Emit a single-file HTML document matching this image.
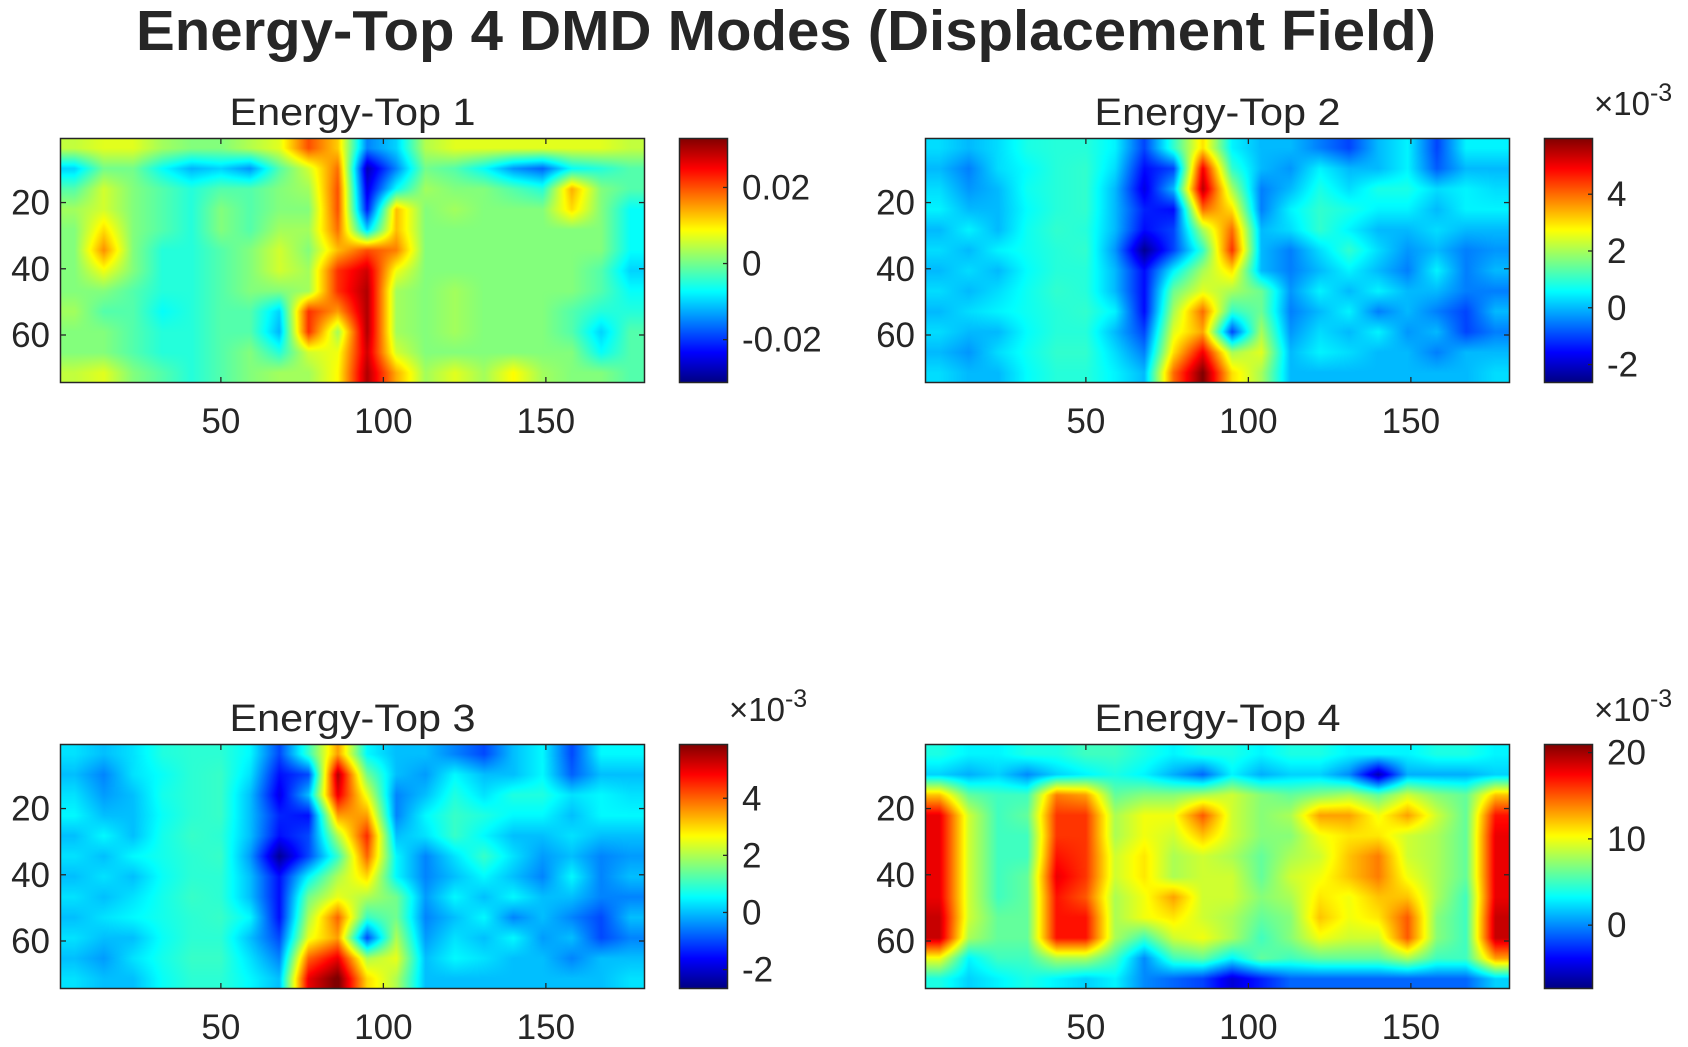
<!DOCTYPE html>
<html><head><meta charset="utf-8">
<style>
body{margin:0;background:#fff;}
#root{position:relative;width:1688px;height:1047px;overflow:hidden;background:#fff;font-family:"Liberation Sans",Arial,sans-serif;}
canvas{position:absolute;}
svg{position:absolute;left:0;top:0;}
text{font-family:"Liberation Sans",Arial,sans-serif;fill:#262626;}
</style></head>
<body>
<div id="root">
<svg id="ov" width="1688" height="1047">
<text x="786" y="50" font-size="57" font-weight="bold" text-anchor="middle" textLength="1300" lengthAdjust="spacingAndGlyphs">Energy-Top 4 DMD Modes (Displacement Field)</text>
</svg>
</div>
<script>
// ---- data (values in units of 1e-3), grid 12 rows x 20 cols over x 0.5..180.5, y 0.5..74.5 ----
const titles = ["Energy-Top 1","Energy-Top 2","Energy-Top 3","Energy-Top 4"];
const climLow = [-31.4, -2.65, -2.68, -7.4];
const climHigh = [33, 5.98, 5.9, 21];
const cbTicks1 = [-20, 0, 20];
const cbTickLabels1 = ["-0.02","0","0.02"];
const cbTicks2 = [-2, 0, 2, 4];
const cbTicks3 = [-2, 0, 2, 4];
const cbTicks4 = [0, 10, 20];
const xTicks = [50, 100, 150];
const yTicks = [20, 40, 60];
const mode1 = [
[5,7,7,3,1,1,4,7,20,12,-15,-10,4,7,7,7,7,7,7,5],
[-10,0,0,-7,-12,-10,-14,-2,6,18,-28,-15,0,-2,-7,-14,-17,-7,-5,-2],
[-2,6,1,-2,-5,-2,-2,1,3,20,-25,-7,3,1,1,-2,-5,14,1,-2],
[3,6,1,-2,-5,1,-2,1,1,20,-22,13,1,3,1,1,1,11,1,-7],
[1,11,1,-2,-5,1,-2,3,3,18,-10,13,1,1,1,1,1,1,1,-7],
[1,16,1,-5,-5,-2,1,6,1,13,20,17,1,1,1,1,1,1,1,-7],
[1,8,1,-5,-5,-2,1,6,3,22,28,8,1,1,1,1,1,1,-2,-10],
[1,1,-2,-5,-5,-2,1,1,3,22,30,3,1,3,1,1,1,1,-2,-7],
[3,-2,-2,-7,-5,-2,-2,-10,22,15,30,3,1,3,1,1,1,-2,-5,-5],
[1,1,-2,-5,-5,-2,-2,-12,22,3,30,3,1,3,1,1,1,-2,-10,-2],
[1,1,-2,-5,-5,-2,1,-5,6,8,28,6,1,1,1,1,1,1,-7,-2],
[5,7,1,-2,-5,-2,1,3,3,9,30,14,3,7,3,9,3,1,1,-2]];
const mode2 = [
[0.3,0,0.3,0.8,0.9,0.9,0.5,-1,1,3,0.5,0,0,-0.5,-1,0,0.5,-1,0.5,0.5],
[0,-0.5,0.3,0.6,0.9,1.0,0.3,-1.5,-1,5,1,0,-0.3,0.5,0,0,0.5,-0.8,0,0],
[0.3,-0.3,0,0.7,0.9,1.0,0,-1.8,0,5.5,2,-0.5,0,0.8,0.3,0.8,0.8,0.3,0.5,0.3],
[0.5,0,0,0.6,0.9,1.0,0,-1.3,-1.5,4,3,-0.5,0.5,1,0.8,0.5,0.5,0,0.5,0.5],
[0,0.5,0,0.7,1.0,0.9,0,-1.5,-1,2,4,0,0.3,1,0.5,0,0,0.3,0,0],
[0.3,0,0.5,0.7,0.9,1.0,-0.3,-2.5,-1,1,4.5,0,-0.5,0.3,1,0.3,-0.3,0,-0.5,-0.3],
[0,0.3,0,0.6,0.9,0.9,0,-1.5,0.5,2,3,0,-0.5,0,0.5,0,-0.5,0.5,-0.5,0],
[0.3,0,0.3,0.7,1.0,0.9,0,-1.5,1.5,2.5,2,1.5,-0.3,0.5,0,0.5,0,0,-0.5,-0.5],
[0,0.3,0.5,0.7,0.9,1.0,0.5,-1.5,2,4,1,1.5,-0.5,0,0.5,-0.5,0,-0.5,-1,0],
[0.3,0,0,0.6,0.9,0.9,0,-1,2.5,3.5,-1,2,-0.3,0.3,0,0.5,-0.3,0,-1,-0.5],
[0,-0.3,0.3,0.7,1.0,1.0,0.3,-0.5,3,5,2,2.5,0,0.5,0.3,0,0,-0.5,0,0],
[0.3,0,0,0.6,0.9,0.9,0.5,0,4,6,3,2,0,0,0,0,0,0,0,0.3]];
const mode3 = [
[0.3,0,0.3,0.8,0.9,0.9,0.5,-1,1,3.5,0.5,0,0,-0.5,-1,0,0.5,-1,0.5,0.5],
[0,-0.5,0.3,0.6,0.9,1.0,0.3,-1.5,-1,5.5,1.5,0,-0.3,0.5,0,0,0.5,-0.8,0,0],
[0.3,-0.3,0,0.7,0.9,1.0,0,-1.8,0,5,2.5,-0.5,0,0.8,0.3,0.8,0.8,0.3,0.5,0.3],
[0.5,0,0,0.6,0.9,1.0,0,-1.3,-1.5,3.5,3.5,-0.5,0.5,1,0.8,0.5,0.5,0,0.5,0.5],
[0,0.5,0,0.7,1.0,0.9,0,-1.5,-1,2,4.5,0,0.3,1,0.5,0,0,0.3,0,0],
[0.3,0,0.5,0.7,0.9,1.0,-0.3,-2.5,-1,1,4,0.5,-0.5,0.3,1,0.3,-0.3,0,-0.5,-0.3],
[0,0.3,0,0.6,0.9,0.9,0,-1.5,0.5,2,3,0.5,-0.5,0,0.5,0,-0.5,0.5,-0.5,0],
[0.3,0,0.3,0.7,1.0,0.9,0,-1.5,1.5,2.5,2,1.5,-0.3,0.5,0,0.5,0,0,-0.5,-0.5],
[0,0.3,0.5,0.7,0.9,1.0,0.5,-1.5,2,4,1,1.5,-0.5,0,0.5,-0.5,0,-0.5,-1,0],
[0.3,0,0,0.6,0.9,0.9,0,-1,2.5,3.5,-1,2,-0.3,0.3,0,0.5,-0.3,0,-1,-0.5],
[0,-0.3,0.3,0.7,1.0,1.0,0.3,-0.5,4,5,2,2.5,0,0.5,0.3,0,0,-0.5,0,0],
[0.3,0,0,0.6,0.9,0.9,0.5,0,5,6,3,2,0,0,0,0,0,0,0,0.3]];
const mode4 = [
[4,3,3,4,4,5,5,4,3,4,4,3,4,4,3,3,3,4,4,3],
[2,1,2,0,2,3,4,3,1,-1,3,1,2,2,0,-6,1,1,1,2],
[12,6,5,5,14,13,6,7,7,8,9,7,6,7,8,6,9,7,6,12],
[18,9,5,6,16,16,8,10,10,15,9,7,8,13,13,10,13,9,6,17],
[18,9,5,5,16,16,8,10,9,12,9,7,7,10,11,11,9,8,6,18],
[18,9,5,5,17,16,9,11,8,9,8,6,8,9,12,14,9,8,6,18],
[18,9,5,6,18,16,9,11,8,9,9,6,9,10,12,14,10,8,6,18],
[18,9,5,6,17,15,8,10,13,9,9,7,8,11,10,12,12,8,5,18],
[19,9,6,6,17,17,8,10,11,9,8,6,7,12,10,11,15,7,5,19],
[19,8,6,6,17,17,8,5,9,10,8,5,7,10,9,9,15,7,5,19],
[10,3,5,5,8,8,5,0,5,6,3,6,5,6,6,6,8,5,5,13],
[4,2,3,4,3,2,3,0,-1,-2,-5,-3,-1,-1,-1,-1,-1,-1,-1,2]];

const modes=[mode1,mode2,mode3,mode4];
const cbTicks=[cbTicks1,cbTicks2,cbTicks3,cbTicks4];
const cbLabels=[cbTickLabels1,cbTicks2.map(String),cbTicks3.map(String),cbTicks4.map(String)];
const X0=0.5,X1=180.5,Y0=0.5,Y1=74.5;
const layout=[
 {ax:60,ay:138,cx:679},{ax:925,ay:138,cx:1544},
 {ax:60,ay:744,cx:679},{ax:925,ay:744,cx:1544}];
const AW=585,AH=245,CW=49;
const NS='http://www.w3.org/2000/svg';
const root=document.getElementById('root');
const ov=document.getElementById('ov');
function clamp(v){return v<0?0:v>1?1:v;}
function jet(t){t=clamp(t);return [clamp(1.5-Math.abs(4*t-3)),clamp(1.5-Math.abs(4*t-2)),clamp(1.5-Math.abs(4*t-1))].map(v=>Math.round(v*255));}
function sample(g,x,y){
 const R=g.length,C=g[0].length;
 let fc=(x-X0)/(X1-X0)*C-0.5, fr=(y-Y0)/(Y1-Y0)*R-0.5;
 fc=Math.max(0,Math.min(C-1,fc)); fr=Math.max(0,Math.min(R-1,fr));
 const c0=Math.floor(fc),r0=Math.floor(fr),c1=Math.min(C-1,c0+1),r1=Math.min(R-1,r0+1);
 const sc=fc-c0,sr=fr-r0;
 return (g[r0][c0]*(1-sc)+g[r0][c1]*sc)*(1-sr)+(g[r1][c0]*(1-sc)+g[r1][c1]*sc)*sr;
}
function mk(tag,attrs){const e=document.createElementNS(NS,tag);for(const k in attrs)e.setAttribute(k,attrs[k]);return e;}
modes.forEach((g,k)=>{
 const L=layout[k], lo=climLow[k], hi=climHigh[k];
 const cv=document.createElement('canvas');
 cv.width=AW;cv.height=AH;cv.style.left=L.ax+'px';cv.style.top=L.ay+'px';
 
 
 const ctx=cv.getContext('2d');const im=ctx.createImageData(AW,AH);
 for(let py=0;py<AH;py++){const y=Y0+(py+0.5)/AH*(Y1-Y0);
  for(let px=0;px<AW;px++){const x=X0+(px+0.5)/AW*(X1-X0);
   const c=jet((sample(g,x,y)-lo)/(hi-lo));const i=(py*AW+px)*4;
   im.data[i]=c[0];im.data[i+1]=c[1];im.data[i+2]=c[2];im.data[i+3]=255;}}
 ctx.putImageData(im,0,0);root.insertBefore(cv,ov);
 const cb=document.createElement('canvas');cb.width=CW;cb.height=AH;
 cb.style.left=L.cx+'px';cb.style.top=L.ay+'px';
 
 
 const c2=cb.getContext('2d');
 for(let py=0;py<AH;py++){const c=jet(1-(py+0.5)/AH);c2.fillStyle='rgb('+c.join(',')+')';c2.fillRect(0,py,CW,1);}
 root.insertBefore(cb,ov);
 const sx=x=>L.ax+(x-X0)/(X1-X0)*AW, sy=y=>L.ay+(y-Y0)/(Y1-Y0)*AH;
 const grp=mk('g',{});
 
 
 const box=mk('rect',{x:L.ax+0.5,y:L.ay+0.5,width:AW-1,height:AH-1,fill:'none',stroke:'#262626','stroke-width':1.5});
 grp.appendChild(box);
 xTicks.forEach(t=>{const x=sx(t);
  grp.appendChild(mk('line',{x1:x,x2:x,y1:L.ay+AH,y2:L.ay+AH-6,stroke:'#262626','stroke-width':1.3}));
  grp.appendChild(mk('line',{x1:x,x2:x,y1:L.ay,y2:L.ay+6,stroke:'#262626','stroke-width':1.3}));
  const tx=mk('text',{x:x,y:L.ay+AH+50,'font-size':35,'text-anchor':'middle'});tx.textContent=t;
  grp.appendChild(tx);});
 yTicks.forEach(t=>{const y=sy(t);
  grp.appendChild(mk('line',{x1:L.ax,x2:L.ax+6,y1:y,y2:y,stroke:'#262626','stroke-width':1.3}));
  grp.appendChild(mk('line',{x1:L.ax+AW,x2:L.ax+AW-6,y1:y,y2:y,stroke:'#262626','stroke-width':1.3}));
  const tx=mk('text',{x:L.ax-10,y:y+12,'font-size':35,'text-anchor':'end'});tx.textContent=t;
  grp.appendChild(tx);});
 const ti=mk('text',{x:L.ax+AW/2,y:L.ay-13,'font-size':38,'text-anchor':'middle','textLength':246,'lengthAdjust':'spacingAndGlyphs'});ti.textContent=titles[k];
 grp.appendChild(ti);
 const cbb=mk('rect',{x:L.cx+0.5,y:L.ay+0.5,width:CW-1,height:AH-1,fill:'none',stroke:'#262626','stroke-width':1.5});
 grp.appendChild(cbb);
 cbTicks[k].forEach((t,i)=>{const y=L.ay+(hi-t)/(hi-lo)*AH;
  grp.appendChild(mk('line',{x1:L.cx+CW-5,x2:L.cx+CW,y1:y,y2:y,stroke:'#262626','stroke-width':1.3}));
  const tx=mk('text',{x:L.cx+CW+14,y:y+12,'font-size':35});tx.textContent=cbLabels[k][i];
  grp.appendChild(tx);});
 if(k>0){const ex=mk('text',{x:L.cx+50,y:L.ay-23,'font-size':33});
  ex.innerHTML='×10<tspan dy="-14" font-size="25">-3</tspan>';
  grp.appendChild(ex);}
 ov.appendChild(grp);
});
</script>
</body></html>
